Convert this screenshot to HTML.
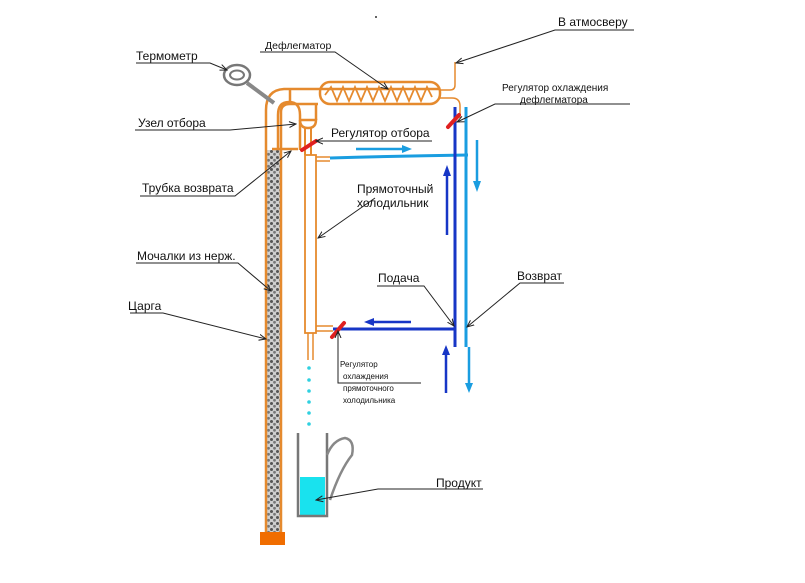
<!DOCTYPE html>
<html><head><meta charset="utf-8"><style>
body{margin:0;background:#fff;width:805px;height:578px;overflow:hidden}
svg text{font-family:"Liberation Sans",sans-serif;fill:#111}
</style></head><body>
<svg width="805" height="578" viewBox="0 0 805 578">
<defs>
<pattern id="pk" width="6" height="6" patternUnits="userSpaceOnUse">
<rect width="6" height="6" fill="#cfcfcf"/><circle cx="1.5" cy="1.5" r="1.5" fill="#555"/><circle cx="4.5" cy="4.3" r="1.4" fill="#777"/>
</pattern>
<marker id="ah" markerWidth="8" markerHeight="8" refX="7" refY="4" orient="auto"><path d="M0,1 L7,4 L0,7" fill="none" stroke="#222" stroke-width="1"/></marker>
</defs>
<g fill="none" stroke="#e58a2e" stroke-width="2.5">
<rect x="267" y="150" width="13" height="382" fill="url(#pk)" stroke="none"/>
<path d="M266,532 V110 Q266,90 284,89 H440"/>
<path d="M281,532 V112 Q281,104 290,104 H318"/>
<path d="M278,150 V115 Q278,102 289,102 Q300,102 300,115 V150"/>
<line x1="290" y1="89" x2="290" y2="102"/>
<path d="M300,120 H316 Q316,128 308,128 Q300,128 300,120"/>
<path d="M305,128 V155 M311,128 V155" stroke-width="2"/>
<path d="M316,120 V104"/>
<line x1="272" y1="149" x2="298" y2="149"/>
<rect x="320" y="82" width="120" height="22" rx="10"/>
<path d="M325,95 l6,-8 l6,14 l6,-14 l6,14 l6,-14 l6,14 l6,-14 l6,14 l6,-14 l6,14 l6,-14 l6,14 l6,-14 l6,14 l6,-14 l6,14 l6,-14 l5,10" stroke-width="1.8"/>
<path d="M440,90 H450 Q455,90 455,85 V62" stroke-width="1.5"/>
<path d="M440,98 H452 Q460,98 460,106 V118" stroke-width="1.5"/>
<rect x="305" y="155" width="11" height="178" stroke-width="1.8"/>
<path d="M308,333 V360 M313,333 V360" stroke-width="1.5"/>
<path d="M316,326 H333 M316,331 H333" stroke-width="1.5"/>
<path d="M316,157 H330 M316,161 H330" stroke-width="1.5"/>
</g>
<rect x="260" y="532" width="25" height="13" fill="#f06d00"/>
<ellipse cx="237" cy="75" rx="13" ry="10" fill="none" stroke="#777" stroke-width="2.5"/>
<ellipse cx="237" cy="75" rx="7" ry="4.5" fill="none" stroke="#777" stroke-width="2"/>
<line x1="247" y1="83" x2="274" y2="103" stroke="#888" stroke-width="4"/>
<g stroke-width="3" fill="none">
<path d="M330,158 Q400,156 468,155" stroke="#1a9de0"/>
<line x1="455" y1="107" x2="455" y2="347" stroke="#1736c6"/>
<line x1="466" y1="107" x2="466" y2="347" stroke="#1a9de0"/>
<line x1="333" y1="329" x2="456" y2="329" stroke="#1736c6"/>
</g>
<g stroke-width="2.5">
<line x1="356" y1="149" x2="404" y2="149" stroke="#1a9de0"/><path d="M412,149 l-10,-4 v8z" fill="#1a9de0"/>
<line x1="447" y1="235" x2="447" y2="175" stroke="#1736c6"/><path d="M447,165 l-4,11 h8z" fill="#1736c6"/>
<line x1="477" y1="140" x2="477" y2="182" stroke="#1a9de0"/><path d="M477,192 l-4,-11 h8z" fill="#1a9de0"/>
<line x1="411" y1="322" x2="372" y2="322" stroke="#1736c6"/><path d="M364,322 l10,-4 v8z" fill="#1736c6"/>
<line x1="446" y1="393" x2="446" y2="353" stroke="#1736c6"/><path d="M446,345 l-4,10 h8z" fill="#1736c6"/>
<line x1="469" y1="347" x2="469" y2="384" stroke="#1a9de0"/><path d="M469,393 l-4,-10 h8z" fill="#1a9de0"/>
</g>
<g stroke="#e02020" stroke-width="4" stroke-linecap="round">
<line x1="302" y1="150" x2="316" y2="141"/>
<line x1="448" y1="127" x2="459" y2="115"/>
<line x1="332" y1="337" x2="344" y2="323"/>
</g>
<g fill="#2fd0e0"><circle cx="309" cy="368" r="1.8"/><circle cx="309" cy="380" r="1.8"/><circle cx="309" cy="391" r="1.8"/><circle cx="309" cy="402" r="1.8"/><circle cx="309" cy="413" r="1.8"/><circle cx="309" cy="424" r="1.8"/></g>
<rect x="300" y="477" width="25" height="38" fill="#19e2ee"/>
<path d="M298,433 V516 H327 V433" fill="none" stroke="#777" stroke-width="2.5"/>
<path d="M327,455 Q333,440 345,438 Q355,440 352,455 Q340,470 330,500" fill="none" stroke="#888" stroke-width="2.5"/>
<g stroke="#222" stroke-width="1" fill="none">
<path d="M136,63 H210 L227,70" marker-end="url(#ah)"/>
<path d="M260,52 H335 L388,89" marker-end="url(#ah)"/>
<path d="M634,30 H555 L456,63" marker-end="url(#ah)"/>
<path d="M630,104 H495 L457,122" marker-end="url(#ah)"/>
<path d="M135,130 H230 L296,124" marker-end="url(#ah)"/>
<path d="M432,141 H322 L316,141" marker-end="url(#ah)"/>
<path d="M140,196 H235 L291,151" marker-end="url(#ah)"/>
<path d="M375,198 L318,238" marker-end="url(#ah)"/>
<path d="M136,263 H238 L271,291" marker-end="url(#ah)"/>
<path d="M130,313 H163 L266,339" marker-end="url(#ah)"/>
<path d="M377,286 H424 L454,326" marker-end="url(#ah)"/>
<path d="M564,283 H520 L467,327" marker-end="url(#ah)"/>
<path d="M421,383 H338 V331" marker-end="url(#ah)"/>
<path d="M483,489 H378 L316,500" marker-end="url(#ah)"/>
</g>
<g font-size="12">
<text x="136" y="60">Термометр</text>
<text x="265" y="49" font-size="10.5">Дефлегматор</text>
<text x="558" y="26">В атмосверу</text>
<text x="502" y="91" font-size="10">Регулятор охлаждения</text>
<text x="520" y="103" font-size="10">дефлегматора</text>
<text x="138" y="127">Узел отбора</text>
<text x="331" y="137">Регулятор отбора</text>
<text x="142" y="192">Трубка возврата</text>
<text x="357" y="193">Прямоточный</text>
<text x="357" y="207">холодильник</text>
<text x="137" y="260">Мочалки из нерж.</text>
<text x="128" y="310">Царга</text>
<text x="378" y="282">Подача</text>
<text x="517" y="280">Возврат</text>
<text x="340" y="367" font-size="8">Регулятор</text>
<text x="343" y="379" font-size="8">охлаждения</text>
<text x="343" y="391" font-size="8">прямоточного</text>
<text x="343" y="403" font-size="8">холодильника</text>
<text x="436" y="487">Продукт</text>
</g>
<circle cx="376" cy="17" r="1" fill="#333"/>
</svg>
</body></html>
